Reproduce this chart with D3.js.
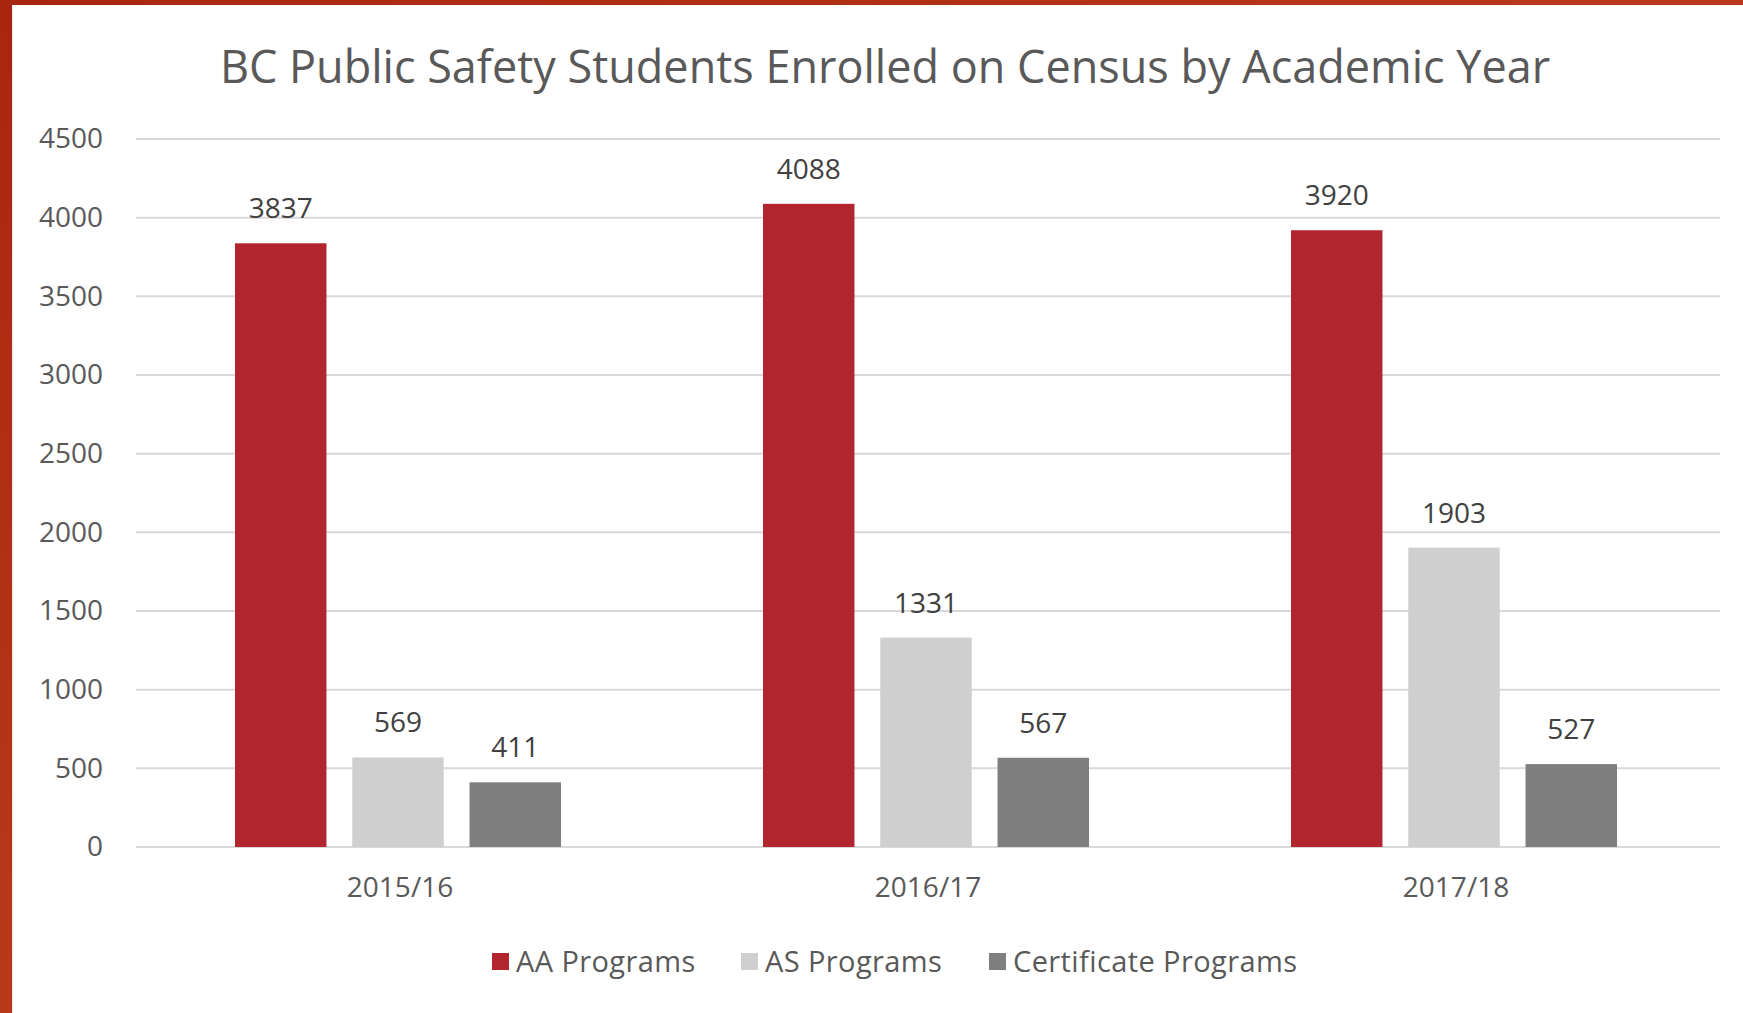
<!DOCTYPE html>
<html>
<head>
    <title>BC Public Safety Students Enrolled on Census by Academic Year</title>
    <script src="https://d3js.org/d3.v7.min.js"></script>
    <style>
        body { margin: 0; background: #ffffff; }
        svg { display: block; font-family: "Open Sans", sans-serif; }
    </style>
</head>
<body>
    <script>
    // Data
    var years = ["2015/16", "2016/17", "2017/18"];
    var seriesNames = ["AA Programs", "AS Programs", "Certificate Programs"];
    var aaPrograms = [3837, 4088, 3920];
    var asPrograms = [569, 1331, 1903];
    var certPrograms = [411, 567, 527];
    var yTicks = [0, 500, 1000, 1500, 2000, 2500, 3000, 3500, 4000, 4500];

    var seriesValues = [aaPrograms, asPrograms, certPrograms];
    var colors = ["#b3252e", "#d0cfcf", "#7f7f7f"];

    var W = 1743, H = 1013;
    var margin = {top: 139, right: 23, bottom: 166, left: 136};
    var width = W - margin.left - margin.right;
    var height = H - margin.top - margin.bottom;

    var svg = d3.select("body")
        .append("svg")
        .attr("width", W)
        .attr("height", H);

    // slide background frame (orange-red) behind the white chart area
    var defs = svg.append("defs");
    var grad = defs.append("linearGradient")
        .attr("id", "frame")
        .attr("x1", "0").attr("y1", "0").attr("x2", "1").attr("y2", "1");
    grad.append("stop").attr("offset", "0%").attr("stop-color", "#a8260f");
    grad.append("stop").attr("offset", "50%").attr("stop-color", "#b8391a");
    grad.append("stop").attr("offset", "100%").attr("stop-color", "#a0200e");

    svg.append("rect")
        .attr("width", W).attr("height", H)
        .attr("fill", "url(#frame)");
    svg.append("rect")
        .attr("x", 12).attr("y", 5)
        .attr("width", W - 12).attr("height", H - 5)
        .attr("fill", "#ffffff");
    svg.append("line")
        .attr("x1", 12.5).attr("x2", 12.5).attr("y1", 5).attr("y2", H)
        .attr("stroke", "#e6e6e6").attr("stroke-width", 1);

    // Title
    svg.append("text")
        .attr("x", 885)
        .attr("y", 83)
        .attr("text-anchor", "middle")
        .attr("fill", "#595959")
        .style("font-size", "45px")
        .text("BC Public Safety Students Enrolled on Census by Academic Year");

    var g = svg.append("g")
        .attr("transform", "translate(" + margin.left + "," + margin.top + ")");

    // Scales
    var x0 = d3.scaleBand()
        .domain(years)
        .range([0, width]);
    var x1 = d3.scaleBand()
        .domain(seriesNames)
        .range([99, x0.bandwidth() - 103])
        .paddingInner(0.22);
    var y = d3.scaleLinear()
        .domain([0, 4500])
        .range([height, 0]);

    // Gridlines
    g.append("g")
        .selectAll("line")
        .data(yTicks)
        .enter()
        .append("line")
        .attr("x1", 0)
        .attr("x2", width)
        .attr("y1", function(d) { return y(d); })
        .attr("y2", function(d) { return y(d); })
        .attr("stroke", "#d9d9d9")
        .attr("stroke-width", 2);

    // Y axis labels
    var yAxis = g.append("g")
        .call(d3.axisLeft(y).tickValues(yTicks).tickSize(0).tickPadding(33).tickFormat(d3.format("d")));
    yAxis.select(".domain").remove();
    yAxis.selectAll("text")
        .attr("fill", "#595959")
        .style("font-size", "28px")
        .style("font-family", "Open Sans, sans-serif");

    // X axis labels
    var xAxis = g.append("g")
        .attr("transform", "translate(0," + height + ")")
        .call(d3.axisBottom(x0).tickSize(0).tickPadding(30));
    xAxis.select(".domain").remove();
    xAxis.selectAll("text")
        .attr("fill", "#595959")
        .style("font-size", "28px")
        .style("font-family", "Open Sans, sans-serif");

    // Bars
    var groups = g.selectAll(".year")
        .data(years)
        .enter()
        .append("g")
        .attr("class", "year")
        .attr("transform", function(d) { return "translate(" + x0(d) + ",0)"; });

    groups.selectAll("rect")
        .data(function(d, i) {
            return seriesNames.map(function(s, j) { return {name: s, value: seriesValues[j][i], k: j}; });
        })
        .enter()
        .append("rect")
        .attr("x", function(d) { return x1(d.name); })
        .attr("y", function(d) { return y(d.value); })
        .attr("width", x1.bandwidth())
        .attr("height", function(d) { return height - y(d.value); })
        .attr("fill", function(d) { return colors[d.k]; });

    // Value labels
    groups.selectAll(".val")
        .data(function(d, i) {
            return seriesNames.map(function(s, j) { return {name: s, value: seriesValues[j][i]}; });
        })
        .enter()
        .append("text")
        .attr("class", "val")
        .attr("x", function(d) { return x1(d.name) + x1.bandwidth() / 2; })
        .attr("y", function(d) { return y(d.value) - 25; })
        .attr("text-anchor", "middle")
        .attr("fill", "#404040")
        .style("font-size", "28px")
        .text(function(d) { return d.value; });

    // Legend
    var legendX = [492, 741, 989];
    var legend = svg.selectAll(".legend")
        .data(seriesNames)
        .enter()
        .append("g")
        .attr("class", "legend")
        .attr("transform", function(d, i) { return "translate(" + legendX[i] + ",953)"; });

    legend.append("rect")
        .attr("width", 17)
        .attr("height", 17)
        .attr("fill", function(d, i) { return colors[i]; });

    legend.append("text")
        .attr("x", 24)
        .attr("y", 9)
        .attr("dy", ".35em")
        .attr("fill", "#595959")
        .style("font-size", "29px")
        .style("letter-spacing", "0.4px")
        .text(function(d) { return d; });
    </script>
</body>
</html>
